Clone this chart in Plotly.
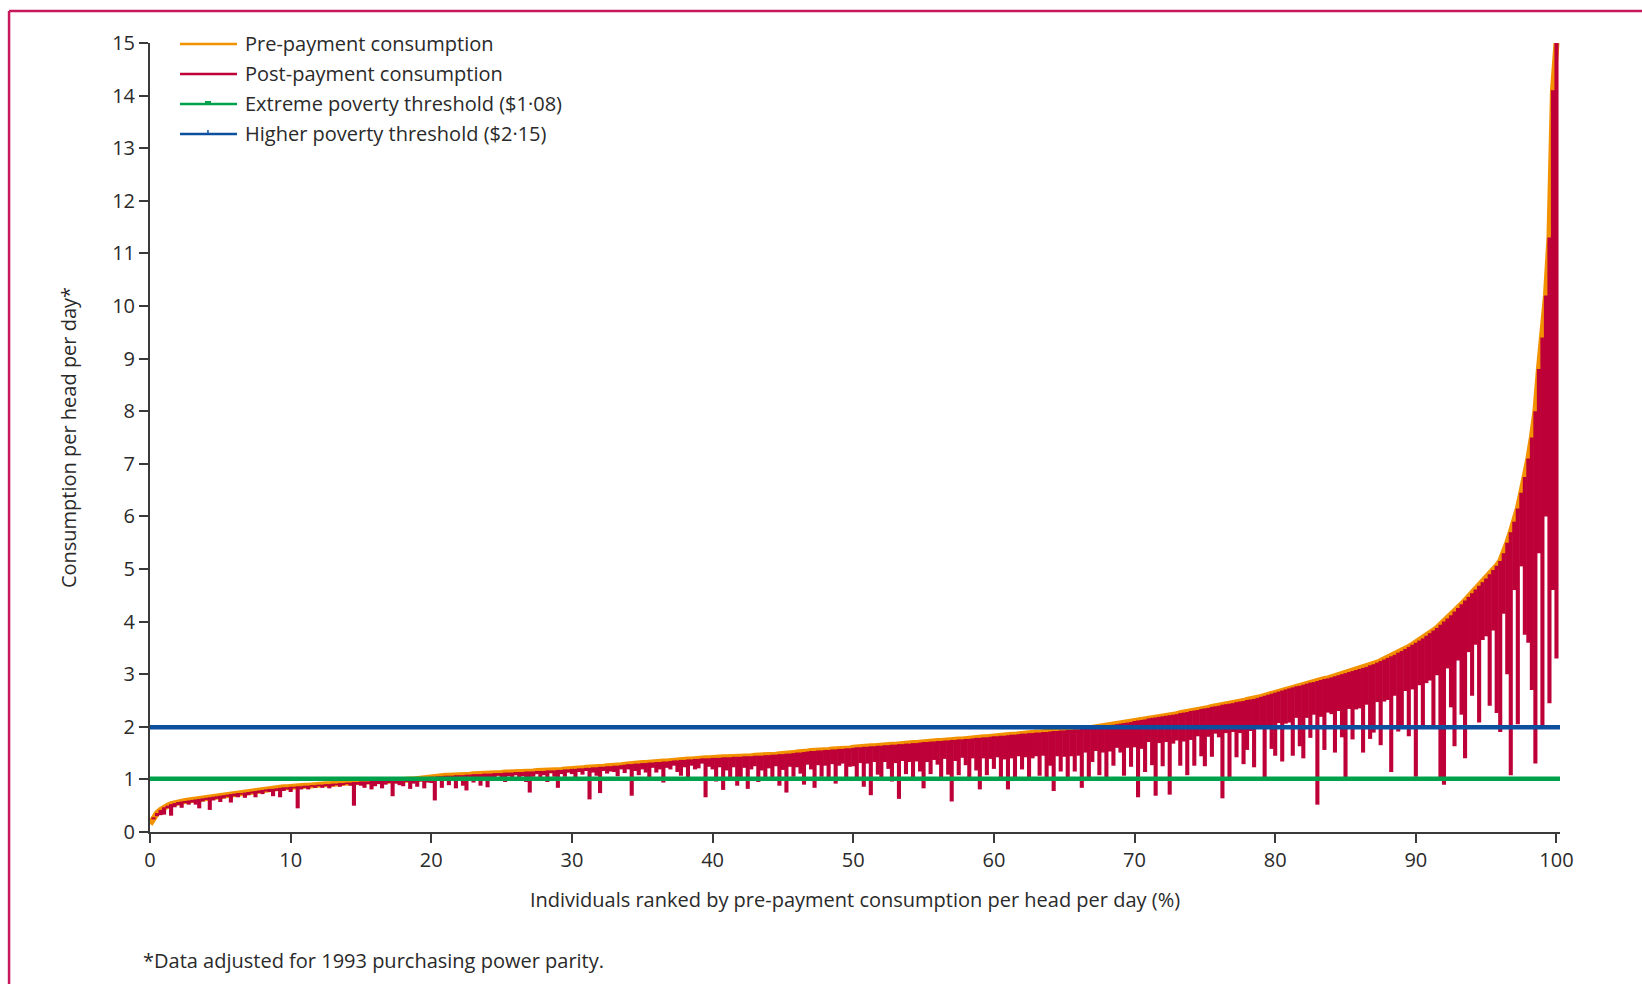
import plotly.graph_objects as go

# ---------------- data ----------------
# individuals ranked by pre-payment consumption, percentile position (0.25 % steps)
rank_pct = [i * 0.25 for i in range(401)]

# pre-payment consumption per head per day (US$ PPP), 4 values per percentile
pre_payment = [
    0.15, 0.28, 0.36, 0.42,  0.47, 0.50, 0.53, 0.55,  0.57, 0.58, 0.59, 0.60,  0.61, 0.62, 0.63, 0.64,
    0.65, 0.66, 0.67, 0.68,  0.69, 0.70, 0.71, 0.72,  0.73, 0.74, 0.74, 0.75,  0.76, 0.77, 0.78, 0.79,
    0.80, 0.81, 0.82, 0.82,  0.83, 0.84, 0.85, 0.85,  0.86, 0.86, 0.87, 0.87,  0.88, 0.88, 0.89, 0.89,
    0.90, 0.90, 0.91, 0.91,  0.92, 0.92, 0.93, 0.93,  0.94, 0.94, 0.95, 0.95,  0.96, 0.96, 0.96, 0.97,
    0.97, 0.97, 0.97, 0.98,  0.98, 0.98, 0.98, 0.99,  0.99, 0.99, 1.00, 1.00,  1.01, 1.02, 1.03, 1.04,
    1.05, 1.05, 1.06, 1.06,  1.07, 1.07, 1.07, 1.08,  1.08, 1.08, 1.09, 1.09,  1.10, 1.10, 1.10, 1.11,
    1.11, 1.11, 1.12, 1.12,  1.12, 1.13, 1.13, 1.13,  1.14, 1.14, 1.14, 1.15,  1.15, 1.15, 1.16, 1.16,
    1.16, 1.17, 1.17, 1.17,  1.18, 1.18, 1.19, 1.19,  1.20, 1.20, 1.21, 1.21,  1.22, 1.22, 1.23, 1.23,
    1.24, 1.24, 1.25, 1.25,  1.26, 1.26, 1.27, 1.28,  1.29, 1.29, 1.30, 1.30,  1.31, 1.31, 1.32, 1.32,
    1.33, 1.33, 1.34, 1.34,  1.35, 1.36, 1.36, 1.37,  1.37, 1.38, 1.38, 1.39,  1.39, 1.40, 1.40, 1.40,
    1.41, 1.41, 1.41, 1.42,  1.42, 1.42, 1.43, 1.43,  1.43, 1.44, 1.44, 1.44,  1.45, 1.45, 1.45, 1.46,
    1.46, 1.47, 1.47, 1.48,  1.48, 1.49, 1.49, 1.50,  1.51, 1.51, 1.52, 1.53,  1.54, 1.54, 1.55, 1.55,
    1.56, 1.56, 1.57, 1.57,  1.58, 1.58, 1.59, 1.59,  1.60, 1.61, 1.61, 1.62,  1.62, 1.63, 1.63, 1.64,
    1.64, 1.65, 1.65, 1.66,  1.66, 1.67, 1.67, 1.68,  1.68, 1.69, 1.69, 1.70,  1.71, 1.71, 1.72, 1.72,
    1.73, 1.73, 1.74, 1.74,  1.75, 1.75, 1.76, 1.76,  1.77, 1.77, 1.78, 1.79,  1.79, 1.80, 1.80, 1.81,
    1.82, 1.82, 1.83, 1.83,  1.84, 1.85, 1.85, 1.86,  1.87, 1.87, 1.88, 1.88,  1.89, 1.89, 1.90, 1.90,
    1.91, 1.92, 1.92, 1.93,  1.93, 1.94, 1.94, 1.95,  1.95, 1.96, 1.96, 1.97,  1.98, 1.99, 2.00, 2.01,
    2.02, 2.03, 2.04, 2.05,  2.06, 2.07, 2.08, 2.09,  2.11, 2.12, 2.13, 2.14,  2.16, 2.17, 2.18, 2.19,
    2.20, 2.21, 2.22, 2.23,  2.24, 2.26, 2.27, 2.28,  2.30, 2.31, 2.32, 2.34,  2.35, 2.36, 2.38, 2.39,
    2.40, 2.42, 2.43, 2.44,  2.45, 2.47, 2.48, 2.49,  2.51, 2.52, 2.53, 2.55,  2.57, 2.59, 2.61, 2.63,
    2.65, 2.67, 2.69, 2.71,  2.73, 2.75, 2.77, 2.78,  2.80, 2.82, 2.84, 2.85,  2.87, 2.89, 2.91, 2.92,
    2.94, 2.96, 2.98, 3.00,  3.02, 3.04, 3.06, 3.08,  3.10, 3.12, 3.14, 3.17,  3.19, 3.22, 3.25, 3.28,
    3.31, 3.34, 3.37, 3.41,  3.44, 3.48, 3.52, 3.56,  3.60, 3.64, 3.68, 3.73,  3.78, 3.83, 3.88, 3.94,
    4.00, 4.06, 4.12, 4.19,  4.26, 4.33, 4.40, 4.47,  4.54, 4.61, 4.68, 4.75,  4.82, 4.90, 4.98, 5.06,
    5.15, 5.30, 5.50, 5.70,  5.90, 6.15, 6.45, 6.75,  7.10, 7.50, 8.00, 8.80,  9.40, 10.20, 11.30, 14.10,
    15.00,
]

# out-of-pocket health payments per head per day (depth of each drop below the pre-payment curve)
oop_payment = [
    0.00, 0.04, 0.06, 0.10,  0.14, 0.05, 0.22, 0.08,  0.06, 0.12, 0.04, 0.08,  0.05, 0.10, 0.18, 0.06,
    0.04, 0.24, 0.07, 0.05,  0.12, 0.06, 0.04, 0.16,  0.05, 0.08, 0.03, 0.10,  0.06, 0.04, 0.12, 0.05,
    0.08, 0.04, 0.06, 0.14,  0.05, 0.18, 0.07, 0.04,  0.10, 0.03, 0.42, 0.06,  0.04, 0.07, 0.03, 0.05,
    0.03, 0.06, 0.04, 0.08,  0.05, 0.03, 0.07, 0.04,  0.03, 0.06, 0.45, 0.05,  0.08, 0.12, 0.05, 0.16,
    0.10, 0.06, 0.14, 0.08,  0.05, 0.30, 0.06, 0.10,  0.12, 0.04, 0.18, 0.08,  0.15, 0.06, 0.20, 0.10,
    0.12, 0.45, 0.08, 0.22,  0.10, 0.18, 0.06, 0.25,  0.08, 0.20, 0.30, 0.10,  0.16, 0.06, 0.22, 0.12,
    0.26, 0.08, 0.14, 0.05,  0.12, 0.18, 0.07, 0.10,  0.06, 0.14, 0.08, 0.20,  0.40, 0.10, 0.06, 0.15,
    0.08, 0.22, 0.05, 0.12,  0.34, 0.08, 0.14, 0.06,  0.10, 0.18, 0.07, 0.12,  0.06, 0.60, 0.10, 0.16,
    0.50, 0.08, 0.14, 0.10,  0.12, 0.20, 0.08, 0.16,  0.10, 0.60, 0.14, 0.22,  0.12, 0.18, 0.30, 0.10,
    0.20, 0.14, 0.40, 0.12,  0.16, 0.10, 0.22, 0.30,  0.14, 0.40, 0.12, 0.20,  0.18, 0.10, 0.74, 0.16,
    0.22, 0.45, 0.18, 0.62,  0.25, 0.38, 0.20, 0.55,  0.40, 0.22, 0.62, 0.25,  0.20, 0.50, 0.28, 0.42,
    0.25, 0.45, 0.22, 0.60,  0.30, 0.74, 0.25, 0.45,  0.28, 0.40, 0.62, 0.25,  0.35, 0.70, 0.28, 0.50,
    0.30, 0.55, 0.28, 0.65,  0.32, 0.28, 0.58, 0.35,  0.35, 0.60, 0.30, 0.76,  0.32, 0.93, 0.30, 0.55,
    0.62, 0.32, 0.45, 0.70,  0.35, 1.04, 0.32, 0.58,  0.35, 0.68, 0.35, 0.55,  0.88, 0.38, 0.62, 0.35,
    0.45, 0.72, 0.35, 0.65,  1.17, 0.40, 0.68, 0.35,  0.50, 0.80, 0.38, 0.62,  0.98, 0.40, 0.72, 0.42,
    0.62, 0.40, 0.80, 0.45,  1.03, 0.45, 0.82, 0.42,  0.68, 0.45, 0.90, 0.48,  0.45, 0.82, 0.45, 0.92,
    0.65, 1.14, 0.48, 0.78,  0.50, 0.92, 0.50, 0.80,  0.50, 1.12, 0.45, 0.95,  0.65, 0.45, 0.92, 0.50,
    1.05, 0.50, 0.78, 0.45,  0.55, 1.00, 0.48, 0.85,  0.50, 1.46, 0.55, 1.00,  0.45, 0.90, 1.49, 0.50,
    0.95, 0.50, 1.51, 0.55,  0.50, 1.00, 0.55, 1.20,  0.55, 1.05, 0.50, 0.90,  1.10, 0.55, 0.95, 0.52,
    0.60, 1.78, 0.55, 1.40,  0.55, 1.05, 0.60, 1.20,  0.95, 0.60, 1.30, 0.55,  0.60, 1.55, 0.65, 1.05,
    1.20, 0.60, 1.35, 0.65,  0.65, 1.30, 0.60, 1.15,  1.40, 0.65, 1.05, 0.62,  2.35, 0.70, 1.35, 0.65,
    0.70, 1.45, 0.68, 1.20,  2.05, 0.70, 1.30, 0.75,  0.75, 1.61, 0.72, 1.40,  1.30, 0.75, 1.60, 0.80,
    0.80, 2.20, 0.78, 1.50,  1.45, 0.80, 1.70, 0.85,  2.55, 0.85, 1.65, 0.90,  0.90, 1.85, 0.90, 2.90,
    3.10, 0.95, 1.75, 2.56,  1.00, 2.10, 3.00, 1.05,  1.95, 1.05, 2.60, 1.10,  1.10, 2.50, 1.15, 2.80,
    3.25, 1.15, 2.50, 4.62,  1.30, 4.10, 1.40, 3.00,  3.50, 4.80, 6.70, 3.50,  7.40, 4.20, 8.85, 9.50,
    11.70,
]

# post-payment consumption = pre-payment consumption minus out-of-pocket payments
post_payment = [round(a - b, 2) for a, b in zip(pre_payment, oop_payment)]

# poverty lines as drawn on the chart
extreme_poverty_line = 1.01
higher_poverty_line = 1.99
poverty_line_span = [0, 100.25]

x_ticks = [0, 10, 20, 30, 40, 50, 60, 70, 80, 90, 100]
y_ticks = list(range(0, 16))

legend_labels = [
    "Pre-payment consumption",
    "Post-payment consumption",
    "Extreme poverty threshold ($1·08)",
    "Higher poverty threshold ($2·15)",
]

# ---------------- styling ----------------
ORANGE = "#F39200"
CRIMSON = "#BE0038"
GREEN = "#00A14B"
BLUE = "#0B4F9E"
FRAME = "#C8175A"
AXIS = "#3a3a3a"
TEXT = "#2a2a2a"
FONT = "Open Sans"

W, H = 1642, 984
ML, MR, MT, MB = 150, 81.5, 43, 151.5
PW = W - ML - MR
PH = H - MT - MB


def px(xp):
    return (xp - ML) / PW


def py(yp):
    return (H - MB - yp) / PH


fig = go.Figure()

# pre-payment consumption (drawn first, the drops are laid over its lower edge)
fig.add_trace(go.Scatter(x=rank_pct, y=pre_payment, mode="lines",
                         line=dict(color=ORANGE, width=6), name=legend_labels[0],
                         hoverinfo="skip", showlegend=False))

# post-payment consumption: drops from the pre-payment level down to the post-payment level
sx, sy = [], []
for x, a, b in zip(rank_pct, pre_payment, post_payment):
    if b < a:
        sx += [x, x, None]
        sy += [a, b, None]
fig.add_trace(go.Scatter(x=sx, y=sy, mode="lines", line=dict(color=CRIMSON, width=4.1),
                         name=legend_labels[1], hoverinfo="skip", showlegend=False))

# poverty thresholds
fig.add_trace(go.Scatter(x=poverty_line_span, y=[extreme_poverty_line] * 2, mode="lines",
                         line=dict(color=GREEN, width=4.5), name=legend_labels[2],
                         hoverinfo="skip", showlegend=False))
fig.add_trace(go.Scatter(x=poverty_line_span, y=[higher_poverty_line] * 2, mode="lines",
                         line=dict(color=BLUE, width=4.5), name=legend_labels[3],
                         hoverinfo="skip", showlegend=False))

# ---------------- manual legend ----------------
shapes = []
annotations = []
legend_rows_px = [44, 74, 104, 134]
legend_colors = [ORANGE, CRIMSON, GREEN, BLUE]
for lab, col, yy in zip(legend_labels, legend_colors, legend_rows_px):
    shapes.append(dict(type="line", xref="paper", yref="paper",
                       x0=px(180), x1=px(237), y0=py(yy), y1=py(yy),
                       line=dict(color=col, width=2.5)))
    annotations.append(dict(text=lab, xref="paper", yref="paper", x=px(243), y=py(yy),
                            xanchor="left", yanchor="middle", showarrow=False,
                            font=dict(family=FONT, size=20, color=TEXT)))
# small markers in the threshold legend samples
shapes.append(dict(type="rect", xref="paper", yref="paper", x0=px(205), x1=px(211),
                   y0=py(104), y1=py(101), fillcolor=GREEN, line=dict(width=0)))
shapes.append(dict(type="line", xref="paper", yref="paper", x0=px(208), x1=px(208),
                   y0=py(134), y1=py(130), line=dict(color=BLUE, width=1.5)))

# frame around the figure (top and left edges visible)
shapes.append(dict(type="line", xref="paper", yref="paper", x0=px(9), x1=px(1700),
                   y0=py(11), y1=py(11), line=dict(color=FRAME, width=2.5)))
shapes.append(dict(type="line", xref="paper", yref="paper", x0=px(9), x1=px(9),
                   y0=py(11), y1=py(1050), line=dict(color=FRAME, width=2.5)))

# footnote
annotations.append(dict(text="*Data adjusted for 1993 purchasing power parity.",
                        xref="paper", yref="paper", x=px(141), y=py(961),
                        xanchor="left", yanchor="middle", showarrow=False,
                        font=dict(family=FONT, size=20, color=TEXT)))

fig.update_layout(
    width=W, height=H,
    margin=dict(l=ML, r=MR, t=MT, b=MB, autoexpand=False),
    paper_bgcolor="white", plot_bgcolor="white",
    font=dict(family=FONT, size=20, color=TEXT),
    showlegend=False,
    hovermode=False,
    shapes=shapes,
    annotations=annotations,
    xaxis=dict(range=[0, 100.25], tickvals=x_ticks, showline=True, linecolor=AXIS, linewidth=2,
               ticks="outside", ticklen=9, tickwidth=2, tickcolor=AXIS, showgrid=False,
               zeroline=False, automargin=False,
               tickfont=dict(family=FONT, size=20, color=TEXT),
               title=dict(text="Individuals ranked by pre-payment consumption per head per day (%)",
                          font=dict(family=FONT, size=20, color=TEXT), standoff=21)),
    yaxis=dict(range=[0, 15], tickvals=y_ticks, showline=True, linecolor=AXIS, linewidth=2,
               ticks="outside", ticklen=9, tickwidth=2, tickcolor=AXIS, showgrid=False,
               zeroline=False, automargin=False,
               tickfont=dict(family=FONT, size=20, color=TEXT),
               title=dict(text="Consumption per head per day*",
                          font=dict(family=FONT, size=20, color=TEXT), standoff=30)),
)

fig.write_html("out.html", config={"displayModeBar": False},
               post_script="document.body.style.margin='0px';")
